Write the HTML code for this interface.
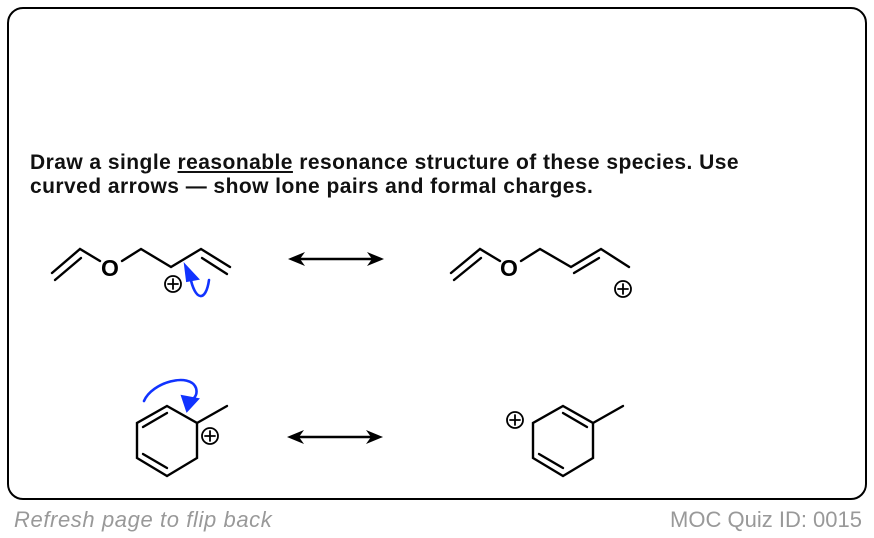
<!DOCTYPE html>
<html><head><meta charset="utf-8"><style>
body{margin:0;width:874px;height:538px;background:#fff;position:relative;overflow:hidden;font-family:"Liberation Sans",sans-serif}
.box{position:absolute;left:7px;top:7px;width:856px;height:489px;border:2px solid #000;border-radius:16px}
.q{position:absolute;left:30px;top:151px;font-weight:bold;font-size:21px;letter-spacing:0.45px;line-height:24px;color:#111;white-space:nowrap}
.f1{position:absolute;left:14px;top:507px;font-style:italic;color:#999;font-size:22px;letter-spacing:0.6px}
.f2{position:absolute;right:12px;top:507px;color:#999;font-size:22px}
</style></head><body>
<div class="box"></div>
<div class="q">Draw a single <u>reasonable</u> resonance structure of these species. Use<br>curved arrows — show lone pairs and formal charges.</div>
<svg width="874" height="538" style="position:absolute;left:0;top:0" fill="none" stroke="#000" stroke-width="2.4" stroke-linecap="round">
<polyline points="52,273 80,249 100,261"/>
<line x1="55" y1="280" x2="81" y2="258"/>
<text x="110" y="276" font-size="23" font-weight="bold" font-family="Liberation Sans" fill="#000" stroke="none" text-anchor="middle">O</text>
<polyline points="122,261 141,249 171,267 201,249 230,267"/>
<line x1="202" y1="258" x2="227" y2="274"/>
<circle cx="173" cy="284" r="8" stroke-width="1.8"/>
<path d="M168 284h10M173 279v10" stroke-width="1.8"/>
<path d="M209 280 C206 302,195 302,190 276" stroke="#1133ff" stroke-width="2.6"/>
<polygon points="185,265 198,279 187,281" fill="#1133ff" stroke="#1133ff" stroke-width="2"/>
<line x1="296" y1="259" x2="376" y2="259"/>
<polygon points="288,259 305,252 300,259 305,266" fill="#000" stroke="none"/>
<polygon points="384,259 367,252 372,259 367,266" fill="#000" stroke="none"/>
<polyline points="451,273 480,249 500,261"/>
<line x1="454" y1="280" x2="481" y2="258"/>
<text x="509" y="276" font-size="23" font-weight="bold" font-family="Liberation Sans" fill="#000" stroke="none" text-anchor="middle">O</text>
<polyline points="521,261 540,249 571,267 601,249 629,267"/>
<line x1="574" y1="273" x2="599" y2="258"/>
<circle cx="623" cy="289" r="8" stroke-width="1.8"/>
<path d="M618 289h10M623 284v10" stroke-width="1.8"/>
<polygon points="167,406 197,423 197,458 167,476 137,458 137,423"/>
<line x1="143" y1="427" x2="167" y2="413"/>
<line x1="143" y1="454" x2="167" y2="468"/>
<line x1="197" y1="423" x2="227" y2="406"/>
<circle cx="210" cy="436" r="8" stroke-width="1.8"/>
<path d="M205 436h10M210 431v10" stroke-width="1.8"/>
<path d="M144 401 C152 382,190 372,196 388 C198 395,194 398,192 400" stroke="#1133ff" stroke-width="2.6"/>
<polygon points="187,411 182,396 198,399" fill="#1133ff" stroke="#1133ff" stroke-width="2"/>
<line x1="295" y1="437" x2="375" y2="437"/>
<polygon points="287,437 304,430 299,437 304,444" fill="#000" stroke="none"/>
<polygon points="383,437 366,430 371,437 366,444" fill="#000" stroke="none"/>
<polygon points="563,406 593,423 593,458 563,476 533,458 533,423"/>
<line x1="563" y1="413" x2="587" y2="427"/>
<line x1="539" y1="454" x2="563" y2="468"/>
<line x1="593" y1="423" x2="623" y2="406"/>
<circle cx="515" cy="420" r="8" stroke-width="1.8"/>
<path d="M510 420h10M515 415v10" stroke-width="1.8"/>
</svg>
<div class="f1">Refresh page to flip back</div>
<div class="f2">MOC Quiz ID: 0015</div>
</body></html>
